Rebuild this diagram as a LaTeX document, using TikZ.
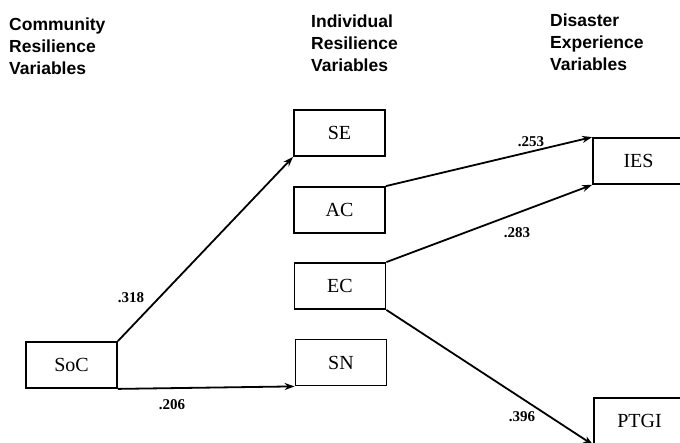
\documentclass[tikz,border=0pt]{standalone}
\usepackage{fontspec}
\setmainfont{Liberation Serif}
\newfontfamily\headfont{Liberation Sans}
\usepackage{xcolor}
\usetikzlibrary{arrows.meta}

\tikzset{
  head/.style={anchor=north west, align=left, inner sep=0pt,
    font=\headfont\bfseries\fontsize{17.5}{22}\selectfont},
  varbox/.style={draw, line width=1.8pt, minimum width=91pt, minimum height=46pt,
    inner sep=0pt, font=\fontsize{20}{22}\selectfont},
  path/.style={line width=1.8pt, -{Stealth[length=10pt,width=7pt]}},
  coef/.style={inner sep=0pt, font=\bfseries\fontsize{15}{16}\selectfont}
}

\begin{document}
\begin{tikzpicture}[x=1pt, y=-1pt]
  % Page frame
  \clip (0,0) rectangle (680,443);
  \fill[white] (0,0) rectangle (680,443);

  % Column headings
  \node[head] (hcomm) at (9,18) {Community\\Resilience\\Variables};
  \node[head] (hind) at (311,15) {Individual\\Resilience\\Variables};
  \node[head] (hdis) at (550,14) {Disaster\\Experience\\Variables};

  % Variable boxes
  \node[varbox] (soc) at (71.5,365) {SoC};
  \node[varbox] (se) at (339.5,133) {SE};
  \node[varbox] (ac) at (339.5,210) {AC};
  \node[varbox] (ec) at (340,286) {EC};
  \node[varbox] (sn) at (341,362.5) {SN};
  \node[varbox] (ies) at (638.5,161) {IES};
  \node[varbox] (ptgi) at (639.5,421) {PTGI};

  % Paths
  \draw[path] (soc.north east) -- (se.south west);
  \draw[path] (soc.south east) -- (sn.south west);
  \draw[path] (ac.north east) -- (ies.north west);
  \draw[path] (ec.north east) -- (ies.south west);
  \draw[path] (ec.south east) -- (ptgi.south west);

  % Path coefficients
  \node[coef] (c318) at (131,298) {.318};
  \node[coef] (c206) at (172,405) {.206};
  \node[coef] (c253) at (531,142) {.253};
  \node[coef] (c283) at (517,233) {.283};
  \node[coef] (c396) at (522,417) {.396};
\end{tikzpicture}
\end{document}
